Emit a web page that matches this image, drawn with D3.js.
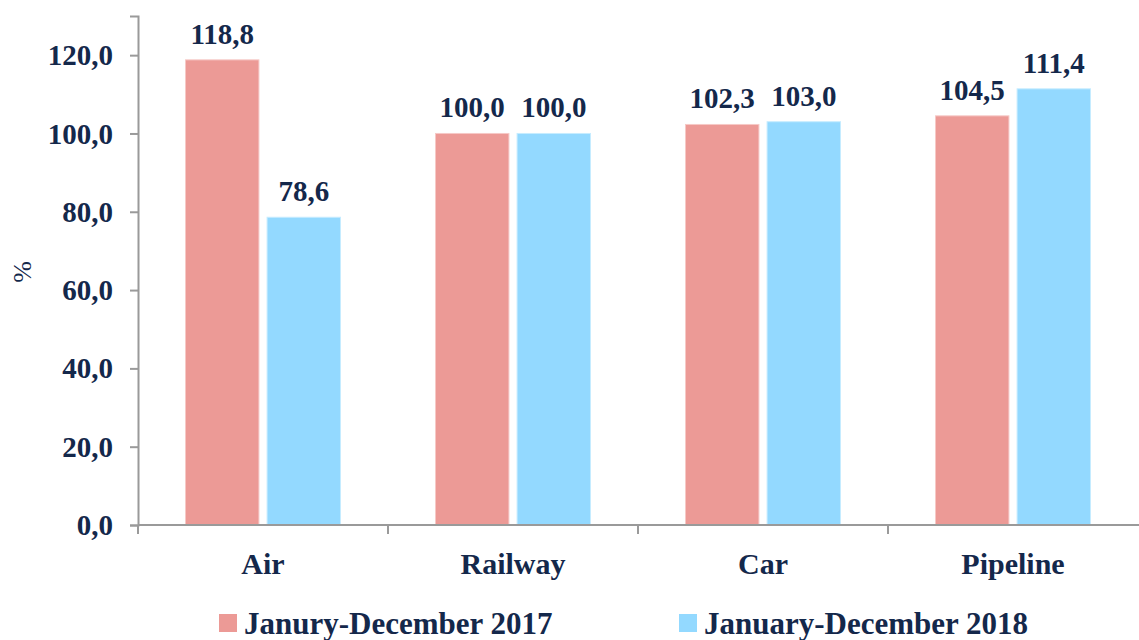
<!DOCTYPE html>
<html>
<head>
<meta charset="utf-8">
<script src="https://cdn.jsdelivr.net/npm/d3@7/dist/d3.min.js"></script>
<style>
  html, body { margin: 0; padding: 0; background: #ffffff; }
  svg { display: block; }
  text { font-family: "Liberation Serif", "Times New Roman", serif; fill: #14284b; }
</style>
</head>
<body>
<svg id="chart" width="1139" height="640"></svg>
<script>
const categories = ["Air", "Railway", "Car", "Pipeline"];
const seriesNames = ["Janury-December 2017", "January-December 2018"];
const values2017 = [118.8, 100.0, 102.3, 104.5];
const values2018 = [78.6, 100.0, 103.0, 111.4];
const yTicks = [0, 20, 40, 60, 80, 100, 120];
const colors = ["#ec9a96", "#93d9ff"];

const svg = d3.select("#chart");
const plotLeft = 138, plotRight = 1138, plotTop = 16, plotBottom = 525;

const x0 = d3.scaleBand().domain(categories).range([plotLeft, plotRight])
  .paddingInner(0.38).paddingOuter(0.19);
const x1 = d3.scaleBand().domain([0, 1]).range([0, x0.bandwidth()]).paddingInner(0.1);
const y = d3.scaleLinear().domain([0, 130]).range([plotBottom, plotTop]);

const fmt = v => v.toFixed(1).replace(".", ",");
const axisColor = "#9a9a9a";

// Y axis
const yAxis = svg.append("g").attr("transform", `translate(${plotLeft},0)`)
  .call(d3.axisLeft(y).tickValues(yTicks).tickSize(8).tickPadding(17).tickFormat(fmt));
yAxis.select(".domain").attr("stroke", axisColor).attr("stroke-width", 2);
yAxis.selectAll(".tick line").attr("stroke", axisColor).attr("stroke-width", 2);
yAxis.selectAll(".tick text")
  .attr("font-family", "Liberation Serif").attr("font-weight", "bold")
  .attr("font-size", 29).attr("fill", "#14284b").attr("dy", "0.33em");

// bars
const data = categories.map((c, i) => ({ cat: c, vals: [values2017[i], values2018[i]] }));
const groups = svg.append("g").selectAll("g").data(data).join("g")
  .attr("transform", d => `translate(${x0(d.cat)},0)`);
groups.selectAll("rect").data(d => d.vals.map((v, k) => ({ v, k }))).join("rect")
  .attr("x", d => x1(d.k))
  .attr("y", d => y(d.v))
  .attr("width", x1.bandwidth())
  .attr("height", d => y(0) - y(d.v))
  .attr("fill", d => colors[d.k])
  .attr("stroke", d => d.k === 0 ? "#f6c9c6" : "#c6ecff")
  .attr("stroke-width", 1);
groups.selectAll("text.val").data(d => d.vals.map((v, k) => ({ v, k }))).join("text")
  .attr("class", "val")
  .attr("x", d => x1(d.k) + x1.bandwidth() / 2)
  .attr("y", d => y(d.v) - 16)
  .attr("text-anchor", "middle")
  .attr("font-weight", "bold").attr("font-size", 29)
  .text(d => fmt(d.v));

// X axis
const xg = svg.append("g");
xg.append("line").attr("x1", plotLeft).attr("x2", 1139).attr("y1", plotBottom).attr("y2", plotBottom)
  .attr("stroke", axisColor).attr("stroke-width", 2);
const gapHalf = (x0.step() - x0.bandwidth()) / 2;
xg.selectAll("line.tk").data(categories).join("line").attr("class", "tk")
  .attr("x1", d => x0(d) - gapHalf).attr("x2", d => x0(d) - gapHalf)
  .attr("y1", plotBottom).attr("y2", plotBottom + 9)
  .attr("stroke", axisColor).attr("stroke-width", 2);
xg.selectAll("text").data(categories).join("text")
  .attr("x", d => x0(d) + x0.bandwidth() / 2)
  .attr("y", 574)
  .attr("text-anchor", "middle")
  .attr("font-weight", "bold").attr("font-size", 30)
  .text(d => d);

// y label
svg.append("text").attr("transform", "translate(22,272) rotate(-90)")
  .attr("text-anchor", "middle").attr("dominant-baseline", "central")
  .attr("font-size", 26).text("%");

// legend
const legX = [219, 679];
const leg = svg.append("g").selectAll("g").data(seriesNames).join("g")
  .attr("transform", (d, i) => `translate(${legX[i]},0)`);
leg.append("rect").attr("x", 0).attr("y", 614).attr("width", 18).attr("height", 18)
  .attr("fill", (d, i) => colors[i]);
leg.append("text").attr("x", 25).attr("y", 634)
  .attr("font-weight", "bold").attr("font-size", 31).text(d => d);
</script>
</body>
</html>
